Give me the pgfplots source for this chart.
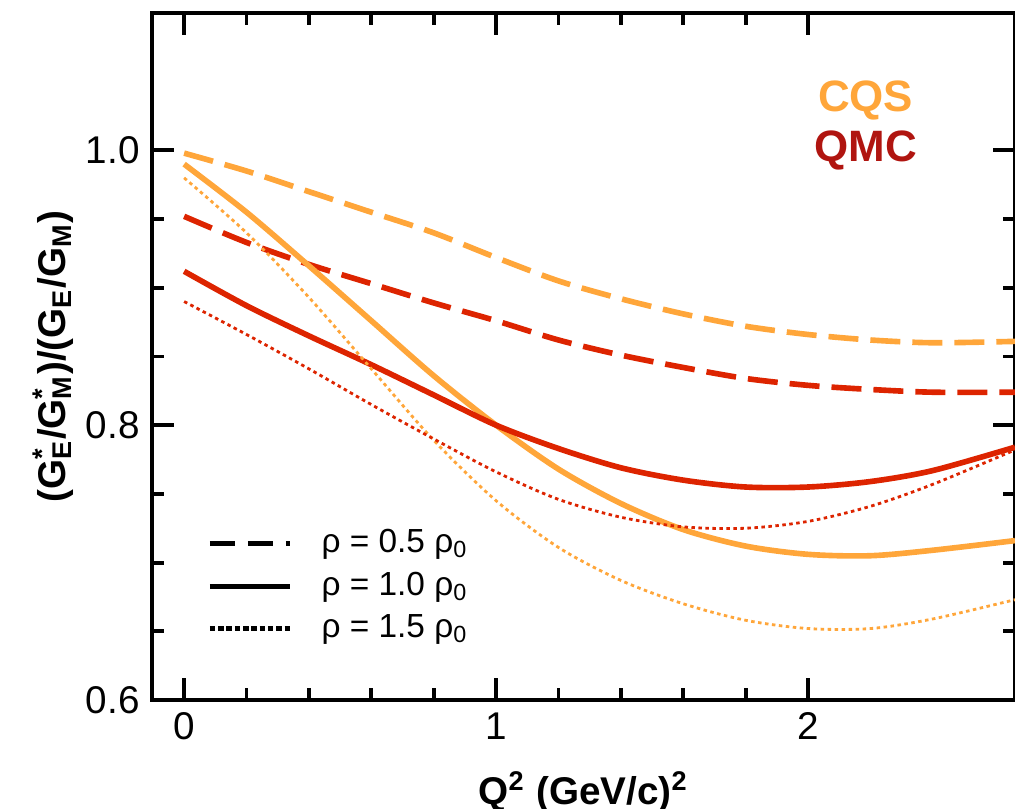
\documentclass[border=0pt]{standalone}
\usepackage{fontspec}
\setmainfont{Liberation Sans}
\usepackage{pgfplots}
\pgfplotsset{compat=1.18}
\definecolor{cqs}{HTML}{FFA63A}
\definecolor{qmc}{HTML}{DD2400}
\definecolor{qmctext}{HTML}{B01510}
\newcommand\Gs[1]{G\rlap{\textsuperscript{*}}\textsubscript{#1}}

\begin{document}
\begin{tikzpicture}
\begin{axis}[
  scale only axis, width=86.3mm, height=68.7mm,
  xmin=-0.103, xmax=2.663, ymin=0.6, ymax=1.1,
  xtick={0,1,2}, ytick={0.6,0.8,1.0},
  minor x tick num=4, minor y tick num=3,
  tick align=inside, major tick length=2.2mm, minor tick length=1.2mm,
  axis line style={line width=1.1pt},
  every tick/.style={black, line width=1.1pt},
  /pgf/number format/assume math mode=true,
  ticklabel style={font=\fontsize{11}{13}\selectfont},
  yticklabel style={/pgf/number format/.cd, fixed, fixed zerofill, precision=1},
  xlabel={\textbf{Q\textsuperscript{2} (GeV/c)\textsuperscript{2}}},
  ylabel={\textbf{(\Gs{E}/\Gs{M})/(G\textsubscript{E}/G\textsubscript{M})}},
  label style={font=\fontsize{11}{13}\selectfont},
  xlabel style={yshift=-0.8mm},
  ylabel style={yshift=-1.2mm},
  legend style={at={(0.051,0.27)}, anchor=north west, draw=none, fill=none,
    font=\fontsize{9.5}{15}\selectfont, cells={anchor=west}},
  legend image code/.code={\draw[#1] (0mm,0mm) -- (8mm,0mm); \path (10.2mm,0mm);},
]
\addlegendimage{black, line width=1.5pt, dash pattern=on 2.5mm off 1.3mm}
\addlegendentry{ρ = 0.5 ρ\textsubscript{0}}
\addlegendimage{black, line width=1.5pt}
\addlegendentry{ρ = 1.0 ρ\textsubscript{0}}
\addlegendimage{black, line width=1.5pt, dash pattern=on 0.55mm off 0.28mm}
\addlegendentry{ρ = 1.5 ρ\textsubscript{0}}

% CQS, rho = 0.5
\addplot[forget plot, cqs, line width=1.6pt, smooth, dash pattern=on 3mm off 1.2mm] coordinates {
(0,0.998) (0.2,0.985) (0.4,0.970) (0.6,0.955) (0.8,0.940) (1.0,0.922) (1.2,0.905)
(1.4,0.892) (1.6,0.881) (1.8,0.872) (2.0,0.866) (2.2,0.862) (2.4,0.860) (2.663,0.861)};
% QMC, rho = 0.5
\addplot[forget plot, qmc, line width=1.6pt, smooth, dash pattern=on 3mm off 1.2mm] coordinates {
(0,0.952) (0.2,0.933) (0.4,0.917) (0.6,0.903) (0.8,0.889) (1.0,0.876) (1.2,0.862)
(1.4,0.851) (1.6,0.842) (1.8,0.834) (2.0,0.829) (2.2,0.826) (2.4,0.824) (2.663,0.824)};
% CQS, rho = 1.0
\addplot[forget plot, cqs, line width=1.6pt, smooth] coordinates {
(0,0.990) (0.2,0.955) (0.4,0.916) (0.6,0.876) (0.8,0.836) (1.0,0.800) (1.2,0.768)
(1.4,0.743) (1.6,0.724) (1.8,0.712) (2.0,0.706) (2.2,0.705) (2.4,0.709) (2.663,0.716)};
% QMC, rho = 1.0
\addplot[forget plot, qmc, line width=1.6pt, smooth] coordinates {
(0,0.912) (0.2,0.887) (0.4,0.865) (0.6,0.844) (0.8,0.822) (1.0,0.800) (1.2,0.783)
(1.4,0.769) (1.6,0.760) (1.8,0.755) (2.0,0.755) (2.2,0.759) (2.4,0.767) (2.663,0.784)};
% CQS, rho = 1.5
\addplot[forget plot, cqs, line width=0.8pt, smooth, dash pattern=on 0.35mm off 0.35mm] coordinates {
(0,0.980) (0.2,0.940) (0.4,0.893) (0.6,0.841) (0.8,0.789) (1.0,0.745) (1.2,0.711)
(1.4,0.687) (1.6,0.670) (1.8,0.658) (2.0,0.652) (2.2,0.652) (2.4,0.659) (2.663,0.673)};
% QMC, rho = 1.5
\addplot[forget plot, qmc, line width=0.8pt, smooth, dash pattern=on 0.35mm off 0.35mm] coordinates {
(0,0.890) (0.2,0.866) (0.4,0.841) (0.6,0.815) (0.8,0.790) (1.0,0.766) (1.2,0.746)
(1.4,0.733) (1.6,0.726) (1.8,0.725) (2.0,0.730) (2.2,0.741) (2.4,0.757) (2.663,0.782)};

\node[font=\fontsize{12.5}{14}\selectfont\bfseries, text=cqs] at (rel axis cs:0.827,0.873) {CQS};
\node[font=\fontsize{12.5}{14}\selectfont\bfseries, text=qmctext] at (rel axis cs:0.827,0.800) {QMC};
\end{axis}
\pgfresetboundingbox
\path (-15.2mm,-10.9mm) rectangle (86.3mm,70.0mm);
\end{tikzpicture}
\end{document}
